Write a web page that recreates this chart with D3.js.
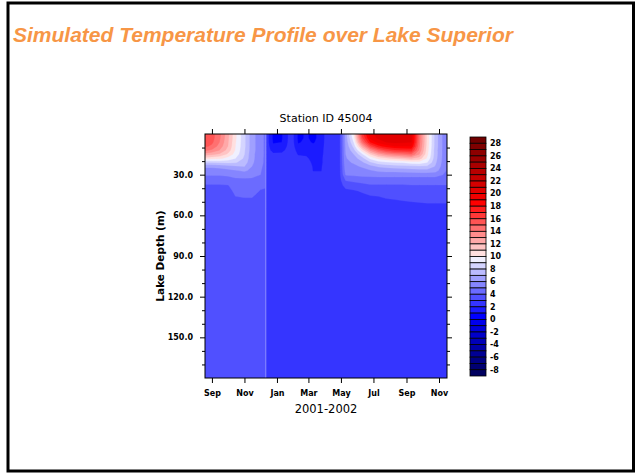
<!DOCTYPE html>
<html>
<head>
<meta charset="utf-8">
<script src="https://cdn.jsdelivr.net/npm/d3@7"></script>
<style>
  body { margin: 0; background: #fff; }
  svg { display: block; }
</style>
</head>
<body>
<div id="maincontainer"></div>
<script>
	////////////////////////////////////////////////////////////
	//////////////// Data /////////////////////////////////////
	////////////////////////////////////////////////////////////

	let chartTitle = "Simulated Temperature Profile over Lake Superior";
	let plotTitle = "Station ID 45004";
	let xTitle = "2001-2002";
	let yTitle = "Lake Depth (m)";

	let startDate = "2001-08-19";
	let endDate = "2002-11-16";
	let restartDate = "2001-12-11";

	// time of each model profile (column)
	let dates = ["2001-08-19", "2001-09-01", "2001-09-15", "2001-10-01", "2001-10-15", "2001-11-01",
		"2001-11-15", "2001-12-01", "2001-12-10", "2001-12-12", "2001-12-25", "2002-01-10",
		"2002-01-28", "2002-02-10", "2002-02-25", "2002-03-10", "2002-03-25", "2002-04-05",
		"2002-04-28", "2002-05-10", "2002-05-25", "2002-06-10", "2002-06-25", "2002-07-10",
		"2002-07-25", "2002-08-10", "2002-08-25", "2002-09-10", "2002-09-25", "2002-10-10",
		"2002-10-25", "2002-11-16"];

	// model levels (m)
	let depths = [0, 3, 6, 9, 12, 15, 18, 21, 24, 27, 30, 34, 38, 42, 46, 50, 55, 60, 100, 180];

	// temperature (deg C), one profile per date, top to bottom
	let temps = [
		[15.6, 15.6, 15.5, 15.2, 14.2, 12.5, 10.5, 8.0, 6.2, 5.5, 5.1, 4.5, 3.9, 3.7, 3.6, 3.6, 3.6, 3.6, 3.6, 3.6],
		[15.4, 15.4, 15.2, 14.8, 13.8, 12.2, 10.3, 8.0, 6.2, 5.5, 5.1, 4.5, 3.9, 3.7, 3.6, 3.6, 3.6, 3.6, 3.6, 3.6],
		[14.3, 14.2, 14.0, 13.6, 13.0, 11.8, 10.2, 8.1, 6.3, 5.6, 5.1, 4.5, 3.9, 3.7, 3.6, 3.6, 3.6, 3.6, 3.6, 3.6],
		[12.3, 12.2, 12.1, 12.0, 11.6, 10.8, 9.6, 8.2, 6.6, 5.7, 5.2, 4.5, 3.95, 3.7, 3.6, 3.6, 3.6, 3.6, 3.6, 3.6],
		[10.2, 10.2, 10.1, 10.0, 9.9, 9.6, 9.0, 8.1, 6.8, 5.9, 5.3, 4.8, 4.4, 4.2, 4.0, 3.8, 3.7, 3.6, 3.6, 3.6],
		[8.2, 8.2, 8.2, 8.2, 8.1, 8.0, 7.8, 7.5, 7.0, 6.2, 5.4, 4.8, 4.5, 4.3, 4.05, 3.85, 3.7, 3.6, 3.6, 3.6],
		[6.4, 6.4, 6.4, 6.4, 6.4, 6.3, 6.3, 6.2, 6.0, 5.7, 5.3, 4.8, 4.5, 4.3, 4.05, 3.85, 3.7, 3.6, 3.6, 3.6],
		[5.4, 5.4, 5.4, 5.4, 5.4, 5.4, 5.3, 5.3, 5.2, 5.1, 5.0, 4.6, 4.2, 3.95, 3.8, 3.7, 3.6, 3.6, 3.6, 3.6],
		[4.8, 4.8, 4.8, 4.8, 4.8, 4.8, 4.8, 4.8, 4.7, 4.6, 4.5, 4.3, 4.1, 3.9, 3.8, 3.7, 3.6, 3.6, 3.6, 3.6],
		[2.6, 2.6, 2.6, 2.6, 2.6, 2.6, 2.6, 2.6, 2.6, 2.6, 2.6, 2.6, 2.6, 2.6, 2.6, 2.6, 2.6, 2.6, 2.6, 2.6],
		[0.8, 0.8, 0.9, 1.2, 1.6, 2.2, 2.6, 2.6, 2.6, 2.6, 2.6, 2.6, 2.6, 2.6, 2.6, 2.6, 2.6, 2.6, 2.6, 2.6],
		[0.9, 0.9, 1.0, 1.3, 1.7, 2.2, 2.6, 2.6, 2.6, 2.6, 2.6, 2.6, 2.6, 2.6, 2.6, 2.6, 2.6, 2.6, 2.6, 2.6],
		[2.6, 2.6, 2.6, 2.6, 2.6, 2.6, 2.6, 2.6, 2.6, 2.6, 2.6, 2.6, 2.6, 2.6, 2.6, 2.6, 2.6, 2.6, 2.6, 2.6],
		[0.8, 0.8, 0.9, 1.2, 1.6, 1.9, 2.3, 2.6, 2.6, 2.6, 2.6, 2.6, 2.6, 2.6, 2.6, 2.6, 2.6, 2.6, 2.6, 2.6],
		[1.1, 1.1, 1.2, 1.4, 1.7, 1.9, 2.1, 2.4, 2.6, 2.6, 2.6, 2.6, 2.6, 2.6, 2.6, 2.6, 2.6, 2.6, 2.6, 2.6],
		[0.8, 0.8, 0.9, 1.2, 1.5, 1.7, 1.8, 1.8, 1.9, 1.95, 2.3, 2.6, 2.6, 2.6, 2.6, 2.6, 2.6, 2.6, 2.6, 2.6],
		[1.3, 1.3, 1.4, 1.5, 1.6, 1.7, 1.8, 1.8, 1.9, 1.95, 2.3, 2.6, 2.6, 2.6, 2.6, 2.6, 2.6, 2.6, 2.6, 2.6],
		[2.6, 2.6, 2.6, 2.6, 2.6, 2.6, 2.6, 2.6, 2.6, 2.6, 2.6, 2.6, 2.6, 2.6, 2.6, 2.6, 2.6, 2.6, 2.6, 2.6],
		[2.6, 2.6, 2.6, 2.6, 2.6, 2.6, 2.6, 2.6, 2.6, 2.6, 2.6, 2.6, 2.6, 2.6, 2.6, 2.6, 2.6, 2.6, 2.6, 2.6],
		[6.5, 6.4, 6.3, 6.2, 6.1, 6.0, 5.9, 5.8, 5.6, 5.4, 5.1, 4.1, 3.3, 2.8, 2.7, 2.6, 2.6, 2.6, 2.6, 2.6],
		[10.0, 9.6, 9.0, 8.3, 7.6, 7.0, 6.5, 6.1, 5.8, 5.5, 5.2, 4.3, 3.5, 2.9, 2.7, 2.6, 2.6, 2.6, 2.6, 2.6],
		[16.5, 15.8, 14.5, 12.5, 10.5, 8.8, 7.6, 6.8, 6.1, 5.7, 5.3, 4.4, 3.7, 3.1, 2.8, 2.7, 2.6, 2.6, 2.6, 2.6],
		[19.6, 19.2, 18.0, 15.8, 13.2, 11.0, 9.2, 7.8, 6.6, 5.9, 5.3, 4.5, 3.9, 3.3, 2.95, 2.75, 2.65, 2.6, 2.6, 2.6],
		[20.4, 20.2, 19.4, 17.6, 15.0, 12.5, 10.2, 8.5, 7.1, 6.2, 5.4, 4.5, 3.9, 3.4, 3.0, 2.8, 2.7, 2.6, 2.6, 2.6],
		[20.7, 20.5, 20.0, 18.5, 16.2, 13.4, 10.8, 8.8, 7.3, 6.3, 5.4, 4.5, 3.9, 3.5, 3.1, 2.85, 2.7, 2.6, 2.6, 2.6],
		[20.8, 20.6, 20.3, 19.0, 16.8, 14.0, 11.2, 9.0, 7.5, 6.3, 5.4, 4.5, 3.9, 3.5, 3.15, 2.9, 2.7, 2.6, 2.6, 2.6],
		[20.6, 20.5, 20.2, 19.0, 17.0, 14.3, 11.5, 9.1, 7.6, 6.4, 5.4, 4.5, 3.9, 3.55, 3.2, 2.95, 2.75, 2.6, 2.6, 2.6],
		[20.3, 20.2, 20.0, 19.0, 17.2, 14.8, 12.0, 9.4, 7.7, 6.5, 5.4, 4.5, 3.95, 3.6, 3.25, 3.0, 2.8, 2.6, 2.6, 2.6],
		[14.5, 14.5, 14.4, 14.2, 13.8, 13.0, 11.5, 9.5, 7.8, 6.6, 5.4, 4.5, 3.95, 3.6, 3.3, 3.02, 2.8, 2.6, 2.6, 2.6],
		[10.6, 10.6, 10.6, 10.5, 10.4, 10.2, 9.8, 9.0, 7.8, 6.6, 5.4, 4.5, 3.95, 3.6, 3.3, 3.05, 2.8, 2.6, 2.6, 2.6],
		[7.6, 7.6, 7.6, 7.6, 7.5, 7.5, 7.4, 7.2, 6.9, 6.4, 5.4, 4.5, 3.95, 3.6, 3.3, 3.05, 2.8, 2.6, 2.6, 2.6],
		[4.9, 4.9, 4.9, 4.9, 4.9, 4.9, 4.9, 4.9, 4.9, 4.9, 4.8, 4.4, 3.95, 3.6, 3.3, 3.05, 2.8, 2.6, 2.6, 2.6]
	];

	let depthMajor = [30, 60, 90, 120, 150];
	let depthMinor = [10, 20, 40, 50, 70, 80, 100, 110, 130, 140, 160, 170];
	let barLabels = [28, 26, 24, 22, 20, 18, 16, 14, 12, 10, 8, 6, 4, 2, 0, -2, -4, -6, -8];
	let minLevel = -8, maxLevel = 28;

	////////////////////////////////////////////////////////////
	//////////////// Setup ////////////////////////////////////
	////////////////////////////////////////////////////////////

	let width = 637;
	let height = 475;
	let plot = {left: 205, right: 447, top: 134, bottom: 378};
	let bar = {left: 470, width: 16, top: 137, bottom: 376};
	let tickFont = "'DejaVu Sans', sans-serif";

	let svg = d3.select("#maincontainer")
		.append("svg")
		.attr("width", width)
		.attr("height", height)
		.style("background", "#ffffff");

	svg.append("rect")
		.attr("x", 8)
		.attr("y", 3)
		.attr("width", 625.5)
		.attr("height", 468)
		.attr("fill", "none")
		.attr("stroke", "black")
		.attr("stroke-width", 3);

	svg.append("text")
		.attr("x", 13)
		.attr("y", 42)
		.attr("font-family", "'Liberation Sans', Arial, sans-serif")
		.attr("font-size", 21)
		.attr("font-weight", "bold")
		.attr("font-style", "italic")
		.attr("fill", "#f79646")
		.text(chartTitle);

	let parse = d3.timeParse("%Y-%m-%d");

	let x = d3.scaleTime()
		.domain([parse(startDate), parse(endDate)])
		.range([plot.left, plot.right]);

	let y = d3.scaleLinear()
		.domain([0, 180])
		.range([plot.top, plot.bottom]);

	// colour of the band [v, v+1)
	let color = d3.scaleLinear()
		.domain([-8.5, 0.5, 9.5, 10.5, 18.5, 28.5])
		.range(["#000060", "#0000ff", "#f0f0ff", "#ffe0e0", "#ff0000", "#700000"]);

	function bandColor(v){
		return color(Math.max(minLevel - 1, Math.min(maxLevel, v)) + 0.5);
	}

	////////////////////////////////////////////////////////////
	//////////////// Filled contours //////////////////////////
	////////////////////////////////////////////////////////////

	let nx = dates.length, ny = depths.length;
	let values = new Array(nx * ny);
	for (let j = 0; j < ny; j++) {
		for (let i = 0; i < nx; i++) {
			values[j * nx + i] = temps[i][j];
		}
	}

	// grid index -> pixel, piecewise along the real dates and depths
	let colX = d3.scaleLinear().domain(d3.range(nx)).range(dates.map(d => x(parse(d)))).clamp(true);
	let rowY = d3.scaleLinear().domain(d3.range(ny)).range(depths.map(d => y(d))).clamp(true);

	let gridTransform = d3.geoTransform({
		point: function(px, py) {
			this.stream.point(colX(px - 0.5), rowY(py - 0.5));
		}
	});
	let pathGenerator = d3.geoPath(gridTransform);

	let levels = d3.range(minLevel, maxLevel + 1);
	let contours = d3.contours()
		.size([nx, ny])
		.thresholds(levels)(values);

	svg.append("clipPath")
		.attr("id", "plotclip")
		.append("rect")
		.attr("x", plot.left)
		.attr("y", plot.top)
		.attr("width", plot.right - plot.left)
		.attr("height", plot.bottom - plot.top);

	let g = svg.append("g")
		.attr("class", "field")
		.attr("clip-path", "url(#plotclip)");

	g.append("rect")
		.attr("x", plot.left)
		.attr("y", plot.top)
		.attr("width", plot.right - plot.left)
		.attr("height", plot.bottom - plot.top)
		.attr("fill", bandColor(minLevel - 1));

	g.selectAll("path")
		.data(contours)
		.enter()
		.append("path")
		.attr("d", pathGenerator)
		.attr("fill", d => bandColor(d.value))
		.attr("stroke", d => bandColor(d.value))
		.attr("stroke-width", 0.3);

	// model restart marker
	g.append("line")
		.attr("x1", x(parse(restartDate)))
		.attr("x2", x(parse(restartDate)))
		.attr("y1", plot.top)
		.attr("y2", plot.bottom)
		.attr("stroke", "#8c8cff")
		.attr("stroke-width", 1);

	////////////////////////////////////////////////////////////
	//////////////// Axes /////////////////////////////////////
	////////////////////////////////////////////////////////////

	let monthTicks = x.ticks(d3.timeMonth.every(2));

	function styleAxis(sel){
		sel.select(".domain").remove();
		sel.selectAll("line").attr("stroke", "black");
		sel.selectAll("text")
			.attr("font-family", tickFont)
			.attr("font-size", 8)
			.attr("font-weight", "bold")
			.attr("fill", "black");
	}

	svg.append("g")
		.attr("transform", `translate(0,${plot.bottom})`)
		.call(d3.axisBottom(x).tickValues(monthTicks).tickFormat(d3.timeFormat("%b")).tickSizeInner(5).tickSizeOuter(0).tickPadding(7))
		.call(styleAxis);

	svg.append("g")
		.attr("transform", `translate(0,${plot.top})`)
		.call(d3.axisTop(x).tickValues(monthTicks).tickFormat("").tickSizeInner(5).tickSizeOuter(0))
		.call(styleAxis);

	svg.append("g")
		.attr("transform", `translate(${plot.left},0)`)
		.call(d3.axisLeft(y).tickValues(depthMajor).tickFormat(d3.format(".1f")).tickSizeInner(5).tickSizeOuter(0).tickPadding(7))
		.call(styleAxis);

	svg.append("g")
		.attr("transform", `translate(${plot.left},0)`)
		.call(d3.axisLeft(y).tickValues(depthMinor).tickFormat("").tickSizeInner(3).tickSizeOuter(0))
		.call(styleAxis);

	svg.append("g")
		.attr("transform", `translate(${plot.right},0)`)
		.call(d3.axisRight(y).tickValues(depthMajor).tickFormat("").tickSizeInner(5).tickSizeOuter(0))
		.call(styleAxis);

	svg.append("g")
		.attr("transform", `translate(${plot.right},0)`)
		.call(d3.axisRight(y).tickValues(depthMinor).tickFormat("").tickSizeInner(3).tickSizeOuter(0))
		.call(styleAxis);

	svg.append("rect")
		.attr("x", plot.left)
		.attr("y", plot.top)
		.attr("width", plot.right - plot.left)
		.attr("height", plot.bottom - plot.top)
		.attr("fill", "none")
		.attr("stroke", "black")
		.attr("stroke-width", 1);

	svg.append("text")
		.attr("x", (plot.left + plot.right) / 2)
		.attr("y", 122)
		.attr("text-anchor", "middle")
		.attr("font-family", tickFont)
		.attr("font-size", 11)
		.text(plotTitle);

	svg.append("text")
		.attr("x", (plot.left + plot.right) / 2)
		.attr("y", 413)
		.attr("text-anchor", "middle")
		.attr("font-family", tickFont)
		.attr("font-size", 11.5)
		.text(xTitle);

	svg.append("text")
		.attr("transform", `translate(164,${(plot.top + plot.bottom) / 2}) rotate(-90)`)
		.attr("text-anchor", "middle")
		.attr("font-family", tickFont)
		.attr("font-size", 10.5)
		.attr("font-weight", "bold")
		.text(yTitle);

	////////////////////////////////////////////////////////////
	//////////////// Colour bar ///////////////////////////////
	////////////////////////////////////////////////////////////

	let bandValues = d3.range(maxLevel, minLevel - 2, -1);   // 28 (>=28) down to -9 (<-8)
	let barY = d3.scaleLinear()
		.domain([maxLevel + 1, minLevel - 1])
		.range([bar.top, bar.bottom]);

	let legend = svg.append("g").attr("class", "colorbar");

	legend.selectAll("rect")
		.data(bandValues)
		.enter()
		.append("rect")
		.attr("x", bar.left)
		.attr("y", d => barY(d + 1))
		.attr("width", bar.width)
		.attr("height", d => barY(d) - barY(d + 1))
		.attr("fill", d => bandColor(d))
		.attr("stroke", "black")
		.attr("stroke-width", 0.8);

	legend.selectAll("text")
		.data(barLabels)
		.enter()
		.append("text")
		.attr("x", bar.left + bar.width + 4)
		.attr("y", d => barY(d))
		.attr("dy", "0.35em")
		.attr("font-family", tickFont)
		.attr("font-size", 8)
		.attr("font-weight", "bold")
		.text(d => d);
</script>
</body>
</html>
